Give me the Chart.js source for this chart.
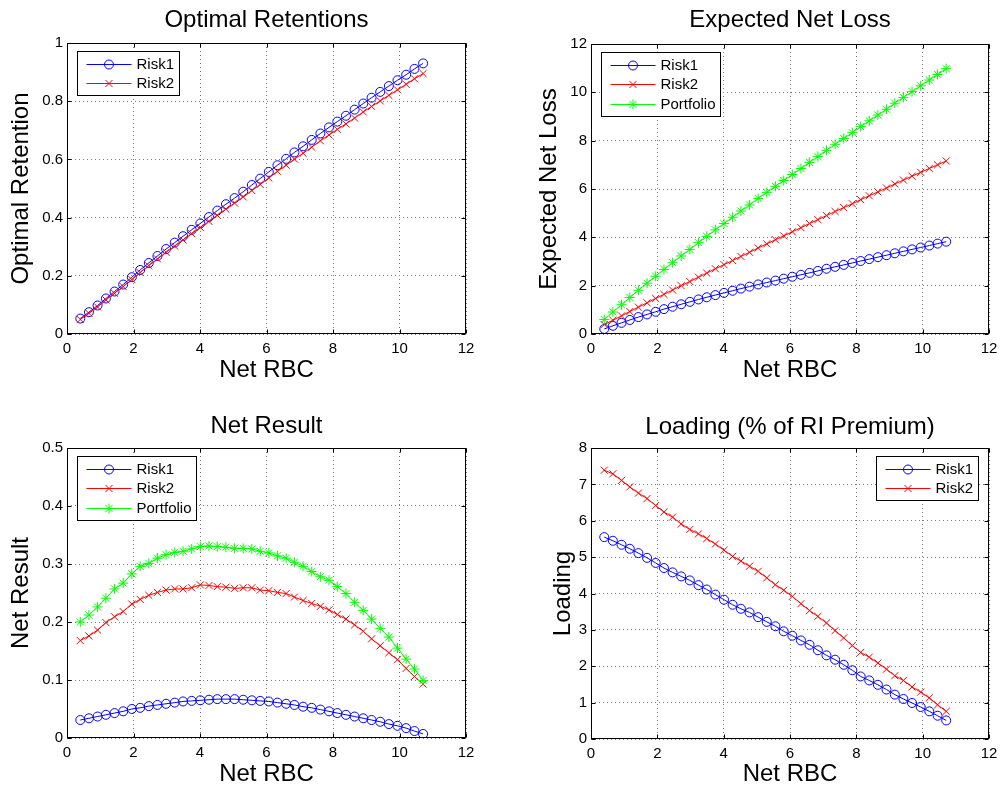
<!DOCTYPE html>
<html>
<head>
<meta charset="utf-8">
<title>Reinsurance optimisation</title>
<script src="https://cdn.jsdelivr.net/npm/chart.js@4/dist/chart.umd.min.js"></script>
<style>
  html, body { margin: 0; padding: 0; background: #fff; overflow: hidden; }
  #page { position: relative; width: 1006px; height: 792px; overflow: hidden; }
  #page canvas { position: absolute; }
</style>
</head>
<body>
<div id="page">
  <canvas id="retentions" width="533" height="396" style="left:0px;top:0px"></canvas>
  <canvas id="netloss" width="558" height="396" style="left:511px;top:0px"></canvas>
  <canvas id="netresult" width="533" height="396" style="left:0px;top:396px"></canvas>
  <canvas id="loading" width="558" height="396" style="left:511px;top:396px"></canvas>
</div>
<script>
// x values (Net RBC), shared by every panel
const netRBC = [0.40, 0.66, 0.92, 1.17, 1.43, 1.69, 1.95, 2.20, 2.46, 2.72, 2.98, 3.24, 3.49, 3.75,
    4.01, 4.27, 4.52, 4.78, 5.04, 5.30, 5.56, 5.81, 6.07, 6.33, 6.59, 6.84, 7.10, 7.36, 7.62, 7.88,
    8.13, 8.39, 8.65, 8.91, 9.16, 9.42, 9.68, 9.94, 10.20, 10.45, 10.71];

// tick values
const xTicks = [0, 2, 4, 6, 8, 10, 12];
const retentionTicks = [0, 0.2, 0.4, 0.6, 0.8, 1];
const lossTicks = [0, 2, 4, 6, 8, 10, 12];
const resultTicks = [0, 0.1, 0.2, 0.3, 0.4, 0.5];
const loadingTicks = [0, 1, 2, 3, 4, 5, 6, 7, 8];

// Optimal Retentions
const retentionRisk1 = [0.053, 0.075, 0.098, 0.122, 0.146, 0.170, 0.195, 0.220, 0.244, 0.268, 0.292,
    0.314, 0.336, 0.358, 0.380, 0.402, 0.424, 0.446, 0.467, 0.489, 0.512, 0.534, 0.557, 0.580, 0.602,
    0.624, 0.645, 0.667, 0.689, 0.710, 0.730, 0.750, 0.771, 0.792, 0.812, 0.832, 0.852, 0.872, 0.891,
    0.911, 0.930];
const retentionRisk2 = [0.050, 0.071, 0.093, 0.117, 0.140, 0.163, 0.187, 0.211, 0.235, 0.258, 0.281,
    0.302, 0.323, 0.345, 0.366, 0.387, 0.408, 0.429, 0.450, 0.471, 0.493, 0.514, 0.536, 0.559, 0.580,
    0.601, 0.621, 0.642, 0.664, 0.684, 0.703, 0.722, 0.742, 0.763, 0.782, 0.801, 0.820, 0.839, 0.858,
    0.877, 0.895];

// Expected Net Loss
const lossRisk1 = [0.21, 0.34, 0.46, 0.58, 0.70, 0.81, 0.92, 1.03, 1.13, 1.23, 1.33, 1.43, 1.52, 1.61,
    1.70, 1.79, 1.88, 1.96, 2.05, 2.13, 2.21, 2.29, 2.37, 2.45, 2.53, 2.61, 2.70, 2.78, 2.86, 2.94,
    3.02, 3.10, 3.18, 3.26, 3.34, 3.42, 3.50, 3.58, 3.66, 3.74, 3.82];
const lossRisk2 = [0.39, 0.57, 0.75, 0.93, 1.11, 1.29, 1.47, 1.64, 1.82, 2.00, 2.17, 2.35, 2.52, 2.70,
    2.87, 3.04, 3.21, 3.38, 3.56, 3.73, 3.90, 4.06, 4.23, 4.40, 4.57, 4.73, 4.90, 5.07, 5.23, 5.39,
    5.56, 5.72, 5.88, 6.04, 6.21, 6.37, 6.53, 6.69, 6.85, 7.00, 7.16];
const lossPortfolio = [0.60, 0.91, 1.21, 1.51, 1.81, 2.10, 2.39, 2.67, 2.95, 3.23, 3.50, 3.78, 4.04,
    4.31, 4.57, 4.83, 5.09, 5.34, 5.61, 5.86, 6.11, 6.35, 6.60, 6.85, 7.10, 7.34, 7.60, 7.85, 8.09,
    8.33, 8.58, 8.82, 9.06, 9.30, 9.55, 9.79, 10.03, 10.27, 10.51, 10.74, 10.98];

// Net Result
const resultRisk1 = [0.031, 0.034, 0.037, 0.040, 0.043, 0.046, 0.050, 0.052, 0.055, 0.057, 0.059,
    0.061, 0.063, 0.064, 0.065, 0.066, 0.067, 0.067, 0.067, 0.066, 0.065, 0.064, 0.063, 0.061, 0.059,
    0.057, 0.054, 0.052, 0.049, 0.046, 0.043, 0.040, 0.037, 0.034, 0.031, 0.028, 0.024, 0.021, 0.017,
    0.012, 0.007];
const resultRisk2 = [0.168, 0.176, 0.186, 0.199, 0.209, 0.218, 0.231, 0.239, 0.246, 0.251, 0.255,
    0.257, 0.257, 0.259, 0.264, 0.263, 0.261, 0.260, 0.258, 0.259, 0.259, 0.255, 0.254, 0.251, 0.249,
    0.243, 0.237, 0.232, 0.227, 0.221, 0.213, 0.205, 0.195, 0.184, 0.171, 0.159, 0.147, 0.135, 0.120,
    0.106, 0.093];
const resultPortfolio = [0.200, 0.212, 0.226, 0.241, 0.257, 0.267, 0.283, 0.296, 0.301, 0.310, 0.316,
    0.320, 0.322, 0.326, 0.330, 0.331, 0.330, 0.329, 0.327, 0.327, 0.326, 0.322, 0.319, 0.314, 0.310,
    0.303, 0.296, 0.287, 0.278, 0.272, 0.261, 0.249, 0.234, 0.220, 0.205, 0.189, 0.174, 0.155, 0.136,
    0.119, 0.099];

// Loading (% of RI Premium)
const loadingRisk1 = [5.55, 5.45, 5.34, 5.23, 5.11, 4.98, 4.84, 4.70, 4.58, 4.47, 4.36, 4.23, 4.11,
    3.97, 3.83, 3.69, 3.58, 3.48, 3.35, 3.22, 3.10, 2.96, 2.84, 2.71, 2.59, 2.44, 2.30, 2.18, 2.04,
    1.89, 1.72, 1.61, 1.49, 1.36, 1.22, 1.10, 0.99, 0.88, 0.76, 0.64, 0.51];
const loadingRisk2 = [7.39, 7.29, 7.11, 6.93, 6.76, 6.61, 6.42, 6.24, 6.10, 5.91, 5.76, 5.64, 5.51,
    5.36, 5.19, 5.02, 4.89, 4.75, 4.61, 4.43, 4.24, 4.09, 3.92, 3.72, 3.53, 3.37, 3.19, 2.98, 2.78,
    2.57, 2.38, 2.25, 2.09, 1.92, 1.74, 1.61, 1.43, 1.29, 1.13, 0.94, 0.76];

const FONT = "'Liberation Sans', Arial, Helvetica, sans-serif";
Chart.defaults.font.family = FONT;
Chart.defaults.color = "#000";

// line colour, marker and marker size per series (matlab style)
const styles = {
    Risk1: {color: "#0000ff", marker: "circle", radius: 4.5, order: 3},
    Risk2: {color: "#ff0000", marker: "crossRot", radius: 5, order: 2},
    Portfolio: {color: "#00ff00", marker: "star", radius: 5, order: 1}
};

function series(name, values){
    const s = styles[name];
    return {
        label: name,
        data: values.map((v, i) => ({x: netRBC[i], y: v})),
        borderColor: s.color,
        borderWidth: 1,
        pointStyle: s.marker,
        pointRadius: s.radius,
        pointHoverRadius: s.radius,
        pointBorderColor: s.color,
        pointBackgroundColor: "rgba(0,0,0,0)",
        pointBorderWidth: 1,
        fill: false,
        tension: 0,
        order: s.order
    };
}

function drawMarker(ctx, style, r, x, y){
    ctx.beginPath();
    if (style == "circle") {
        ctx.arc(x, y, r, 0, 2*Math.PI);
    } else {
        const d = r * Math.SQRT1_2;
        ctx.moveTo(x-d, y-d); ctx.lineTo(x+d, y+d);
        ctx.moveTo(x-d, y+d); ctx.lineTo(x+d, y-d);
        if (style == "star") {
            ctx.moveTo(x-r, y); ctx.lineTo(x+r, y);
            ctx.moveTo(x, y-r); ctx.lineTo(x, y+r);
        }
    }
    ctx.stroke();
}

// box round the plot area with inward tick marks
const axesBox = {
    id: "axesBox",
    afterDatasetsDraw(chart){
        const ctx = chart.ctx, a = chart.chartArea;
        const x = chart.scales.x, y = chart.scales.y;
        const L = Math.round(a.left) + 0.5, R = Math.round(a.right) - 0.5;
        const T = Math.round(a.top) + 0.5, B = Math.round(a.bottom) - 0.5;
        ctx.save();
        ctx.strokeStyle = "#000";
        ctx.lineWidth = 1;
        ctx.beginPath();
        x.ticks.forEach(t => {
            const px = Math.round(x.getPixelForValue(t.value)) + 0.5;
            ctx.moveTo(px, B); ctx.lineTo(px, B - 4);
            ctx.moveTo(px, T); ctx.lineTo(px, T + 4);
        });
        y.ticks.forEach(t => {
            const py = Math.round(y.getPixelForValue(t.value)) + 0.5;
            ctx.moveTo(L, py); ctx.lineTo(L + 4, py);
            ctx.moveTo(R, py); ctx.lineTo(R - 4, py);
        });
        ctx.stroke();
        ctx.strokeRect(L, T, R - L, B - T);
        ctx.restore();
    }
};

// legend drawn inside the plot area
const boxLegend = {
    id: "boxLegend",
    afterDraw(chart, args, opts){
        const ctx = chart.ctx, a = chart.chartArea;
        const sets = chart.data.datasets;
        ctx.save();
        ctx.font = "15px " + FONT;
        const textW = Math.max(...sets.map(d => ctx.measureText(d.label).width));
        const w = Math.round(59 + textW + 5);
        const h = Math.round(24.5 + 19.5 * (sets.length - 1));
        const left = Math.round(opts.align == "right" ? a.right - 11 - w : a.left + 10) + 0.5;
        const top = Math.round(a.top + 7.5) + 0.5;
        ctx.fillStyle = "#fff";
        ctx.fillRect(left, top, w, h);
        ctx.strokeStyle = "#000";
        ctx.lineWidth = 1;
        ctx.strokeRect(left, top, w, h);
        sets.forEach((d, i) => {
            const cy = Math.round(top + 12 + 19.5 * i) + 0.5;
            ctx.strokeStyle = d.borderColor;
            ctx.beginPath();
            ctx.moveTo(left + 9, cy);
            ctx.lineTo(left + 54, cy);
            ctx.stroke();
            drawMarker(ctx, d.pointStyle, d.pointRadius, left + 31.5, cy);
            ctx.fillStyle = "#000";
            ctx.textBaseline = "middle";
            ctx.textAlign = "left";
            ctx.fillText(d.label, left + 59, cy);
        });
        ctx.restore();
    }
};

function makePanel(id, p){
    return new Chart(id, {
        type: "line",
        data: { datasets: p.datasets },
        options: {
            responsive: false,
            animation: false,
            events: [],
            layout: { padding: { right: p.padRight } },
            plugins: {
                legend: { display: false },
                tooltip: { enabled: false },
                title: { display: false },
                boxLegend: { align: p.legendAlign }
            },
            scales: {
                x: {
                    type: "linear",
                    min: 0,
                    max: 12,
                    afterBuildTicks: s => { s.ticks = xTicks.map(v => ({value: v})); },
                    afterFit: s => { s.height = p.xHeight; },
                    grid: { color: "#7a7a7a", lineWidth: 1, drawTicks: false },
                    border: { display: false, dash: [1, 3] },
                    ticks: { padding: 6, maxRotation: 0, font: { size: 15 }, color: "#000", callback: v => String(v) },
                    title: { display: true, text: "Net RBC", color: "#000", font: { size: 24 }, padding: { bottom: p.xTitleBottom } }
                },
                // empty top axis, only used to centre the panel title over the plot
                top: {
                    type: "linear",
                    position: "top",
                    min: 0,
                    max: 12,
                    afterFit: s => { s.height = p.plotTop; },
                    grid: { display: false },
                    border: { display: false },
                    ticks: { display: false },
                    title: { display: true, text: p.title, color: "#000", font: { size: 24 }, padding: { top: p.titleTop } }
                },
                y: {
                    type: "linear",
                    min: p.yTicks[0],
                    max: p.yTicks[p.yTicks.length-1],
                    afterBuildTicks: s => { s.ticks = p.yTicks.map(v => ({value: v})); },
                    afterFit: s => { s.width = p.yWidth; },
                    grid: { color: "#7a7a7a", lineWidth: 1, drawTicks: false },
                    border: { display: false, dash: [1, 3] },
                    ticks: { padding: 4, font: { size: 15 }, color: "#000", callback: v => String(v) },
                    title: { display: true, text: p.yTitle, color: "#000", font: { size: 24 }, padding: { top: p.yTitlePad } }
                }
            }
        },
        plugins: [axesBox, boxLegend]
    });
}

makePanel("retentions", {
    title: "Optimal Retentions", yTitle: "Optimal Retention", yTicks: retentionTicks,
    datasets: [series("Risk1", retentionRisk1), series("Risk2", retentionRisk2)],
    legendAlign: "left", padRight: 67, yWidth: 67, xHeight: 62, plotTop: 43,
    titleTop: 6.1, xTitleBottom: 11.6, yTitlePad: 7.1
});

makePanel("netloss", {
    title: "Expected Net Loss", yTitle: "Expected Net Loss", yTicks: lossTicks,
    datasets: [series("Risk1", lossRisk1), series("Risk2", lossRisk2), series("Portfolio", lossPortfolio)],
    legendAlign: "left", padRight: 80, yWidth: 80, xHeight: 62, plotTop: 44,
    titleTop: 6.1, xTitleBottom: 11.6, yTitlePad: 23.6
});

makePanel("netresult", {
    title: "Net Result", yTitle: "Net Result", yTicks: resultTicks,
    datasets: [series("Risk1", resultRisk1), series("Risk2", resultRisk2), series("Portfolio", resultPortfolio)],
    legendAlign: "left", padRight: 67, yWidth: 67, xHeight: 54, plotTop: 52,
    titleTop: 16.1, xTitleBottom: 3.6, yTitlePad: 7.1
});

makePanel("loading", {
    title: "Loading (% of RI Premium)", yTitle: "Loading", yTicks: loadingTicks,
    datasets: [series("Risk1", loadingRisk1), series("Risk2", loadingRisk2)],
    legendAlign: "right", padRight: 80, yWidth: 80, xHeight: 53, plotTop: 52,
    titleTop: 16.6, xTitleBottom: 3.6, yTitlePad: 37.6
});
</script>
</body>
</html>
